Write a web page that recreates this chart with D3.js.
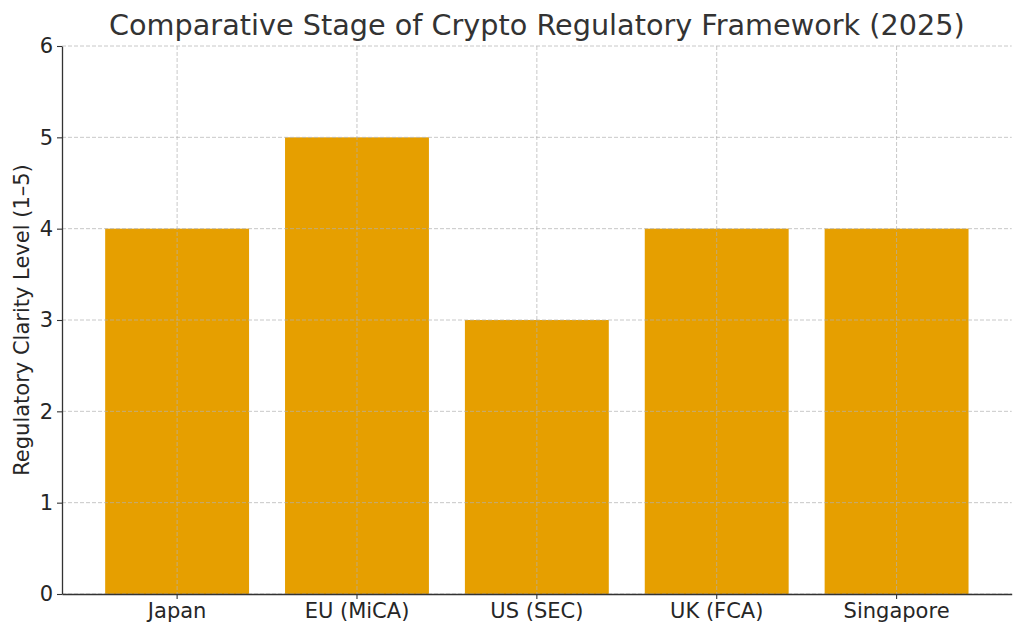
<!DOCTYPE html>
<html>
<head>
<meta charset="utf-8">
<script src="https://cdn.jsdelivr.net/npm/d3@7"></script>
<style>
  body { margin: 0; background: #fff; }
  text { font-family: "DejaVu Sans", sans-serif; }
</style>
</head>
<body>
<div id="chart"></div>
<script>
const categories = ["Japan", "EU (MiCA)", "US (SEC)", "UK (FCA)", "Singapore"];
const clarityLevels = [4, 5, 3, 4, 4];
const yTicks = [0, 1, 2, 3, 4, 5, 6];

const width = 1024, height = 635;
const margin = { top: 46, right: 12.3, bottom: 41, left: 62 };
const innerW = width - margin.left - margin.right;
const innerH = height - margin.top - margin.bottom;

const svg = d3.select("#chart").append("svg")
    .attr("width", width)
    .attr("height", height);

const g = svg.append("g")
    .attr("transform", `translate(${margin.left}, ${margin.top})`);

// matplotlib-like: bar width 0.8, 5% margins
const xScale = d3.scaleBand()
    .domain(categories)
    .range([0, innerW])
    .paddingInner(0.2)
    .paddingOuter(0.24);

const yScale = d3.scaleLinear()
    .domain([0, 6])
    .range([innerH, 0]);

// bars
g.selectAll("rect.bar")
    .data(categories)
    .enter()
    .append("rect")
    .attr("class", "bar")
    .attr("x", (d) => xScale(d))
    .attr("y", (d, i) => yScale(clarityLevels[i]))
    .attr("width", xScale.bandwidth())
    .attr("height", (d, i) => innerH - yScale(clarityLevels[i]))
    .attr("fill", "#E69F00");

// gridlines over the bars
const gridStyle = (sel) => sel
    .attr("stroke", "#b0b0b0")
    .attr("stroke-opacity", 0.7)
    .attr("stroke-width", 1)
    .attr("stroke-dasharray", "4,2");

g.append("g")
    .selectAll("line")
    .data(yTicks)
    .enter()
    .append("line")
    .attr("x1", 0).attr("x2", innerW)
    .attr("y1", (d) => yScale(d)).attr("y2", (d) => yScale(d))
    .call(gridStyle);

g.append("g")
    .selectAll("line")
    .data(categories)
    .enter()
    .append("line")
    .attr("x1", (d) => xScale(d) + xScale.bandwidth() / 2)
    .attr("x2", (d) => xScale(d) + xScale.bandwidth() / 2)
    .attr("y1", 0).attr("y2", innerH)
    .call(gridStyle);

// axes
const xAxis = g.append("g")
    .attr("transform", `translate(0, ${innerH})`)
    .call(d3.axisBottom(xScale).tickSize(5).tickPadding(4).tickSizeOuter(0));

const yAxis = g.append("g")
    .call(d3.axisLeft(yScale).tickValues(yTicks).tickFormat(d3.format("d"))
        .tickSize(5).tickPadding(4).tickSizeOuter(0));

[xAxis, yAxis].forEach((ax) => {
    ax.select(".domain").attr("stroke", "#333").attr("stroke-width", 1.3);
    ax.selectAll(".tick line").attr("stroke", "#333").attr("stroke-width", 1.1);
    ax.selectAll(".tick text")
        .attr("fill", "#262626")
        .style("font-size", "21px")
        .style("font-family", "DejaVu Sans");
});

// titles
svg.append("text")
    .attr("x", margin.left + innerW / 2)
    .attr("y", 35)
    .attr("text-anchor", "middle")
    .attr("fill", "#333")
    .style("font-size", "28.7px")
    .text("Comparative Stage of Crypto Regulatory Framework (2025)");

svg.append("text")
    .attr("transform", `translate(28.5, ${margin.top + innerH / 2}) rotate(-90)`)
    .attr("text-anchor", "middle")
    .attr("fill", "#262626")
    .style("font-size", "21px")
    .text("Regulatory Clarity Level (1–5)");
</script>
</body>
</html>
